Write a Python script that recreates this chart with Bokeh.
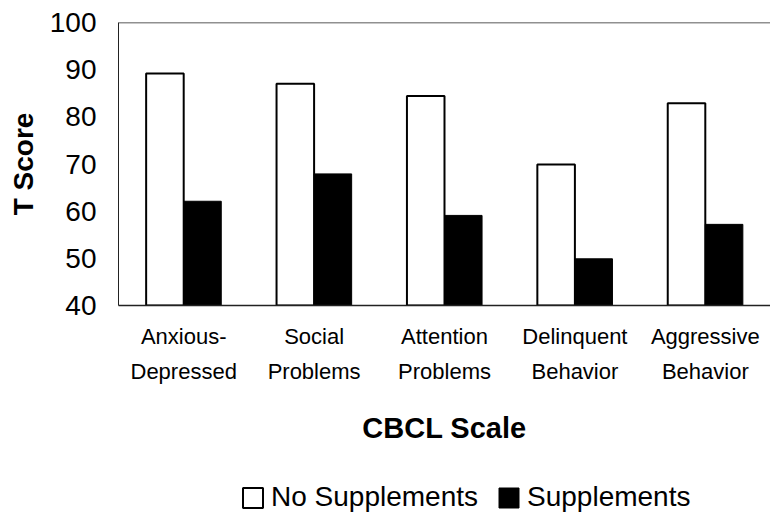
from bokeh.plotting import figure
from bokeh.layouts import column
from bokeh.models import (Range1d, FactorRange, Span, Legend, LegendItem, ColumnDataSource,
                          FixedTicker)
from bokeh.transform import dodge
from bokeh.embed import file_html
from bokeh.resources import INLINE

categories = ["Anxious-\nDepressed", "Social\nProblems", "Attention\nProblems",
              "Delinquent\nBehavior", "Aggressive\nBehavior"]
no_supplements = [89.2, 87.0, 84.4, 69.9, 82.9]
supplements = [62.1, 67.9, 59.1, 49.9, 57.2]
y_ticks = [40, 50, 60, 70, 80, 90, 100]
y_min, y_max = 40, 100

src = ColumnDataSource(dict(cat=categories, no=no_supplements, sup=supplements))

FONT = "Liberation Sans"

p = figure(width=770, height=470, output_backend="svg", toolbar_location=None,
           x_range=FactorRange(*categories), y_range=Range1d(y_min, y_max),
           min_border_left=118, min_border_right=0, min_border_top=22,
           min_border_bottom=165)

r1 = p.vbar(x=dodge("cat", -0.144, range=p.x_range), top="no", bottom=y_min, width=0.288,
            source=src, fill_color="white", line_color="black", line_width=2)
r2 = p.vbar(x=dodge("cat", 0.144, range=p.x_range), top="sup", bottom=y_min, width=0.288,
            source=src, fill_color="black", line_color="black", line_width=1)

p.add_layout(Span(location=y_max, dimension="width", line_color="#222222", line_width=1.5))

p.outline_line_color = None
p.xgrid.grid_line_color = None
p.ygrid.grid_line_color = None
p.background_fill_color = "white"
p.border_fill_color = "white"

ya = p.yaxis[0]
ya.ticker = FixedTicker(ticks=y_ticks)
ya.major_tick_out = 0
ya.major_tick_in = 0
ya.minor_tick_out = 0
ya.minor_tick_in = 0
ya.axis_line_color = "#222222"
ya.axis_line_width = 1
ya.major_label_text_font = FONT
ya.major_label_text_font_size = "28px"
ya.major_label_text_color = "black"
ya.major_label_standoff = 22
ya.axis_label = "T Score"
ya.axis_label_text_font = FONT
ya.axis_label_text_font_style = "bold"
ya.axis_label_text_font_size = "28px"
ya.axis_label_text_color = "black"
ya.axis_label_standoff = 8

xa = p.xaxis[0]
xa.major_tick_out = 0
xa.major_tick_in = 0
xa.axis_line_color = "#222222"
xa.axis_line_width = 1.5
xa.major_label_text_font = FONT
xa.major_label_text_font_size = "22px"
xa.major_label_text_color = "black"
xa.major_label_text_line_height = 1.4
xa.major_label_standoff = 18
xa.axis_label = "CBCL Scale"
xa.axis_label_text_font = FONT
xa.axis_label_text_font_style = "bold"
xa.axis_label_text_font_size = "29px"
xa.axis_label_text_color = "black"
xa.axis_label_standoff = 25

# legend strip below the chart; its x range holds no chart category, so the
# legend renderers draw nothing themselves
p2 = figure(width=770, height=44, output_backend="svg", toolbar_location=None,
            x_range=FactorRange("legend"), y_range=Range1d(0, 1),
            min_border=0, x_axis_type=None, y_axis_type=None)
p2.outline_line_color = None
p2.xgrid.grid_line_color = None
p2.ygrid.grid_line_color = None
l1 = p2.vbar(x="cat", top="no", bottom=y_min, width=0.288, source=src,
             fill_color="white", line_color="black", line_width=2)
l2 = p2.vbar(x="cat", top="sup", bottom=y_min, width=0.288, source=src,
             fill_color="black", line_color="black", line_width=1)

legend = Legend(items=[LegendItem(label="No Supplements", renderers=[l1]),
                       LegendItem(label="Supplements", renderers=[l2])],
                orientation="horizontal", location=(122, 1),
                glyph_width=25, glyph_height=25, label_standoff=6, spacing=18,
                padding=0, margin=0, border_line_color=None, background_fill_alpha=0,
                label_text_font=FONT, label_text_font_size="28px", label_text_color="black")
p2.add_layout(legend, "center")

layout = column(p, p2, spacing=0)
open("out.html", "w").write(file_html(layout, INLINE))
